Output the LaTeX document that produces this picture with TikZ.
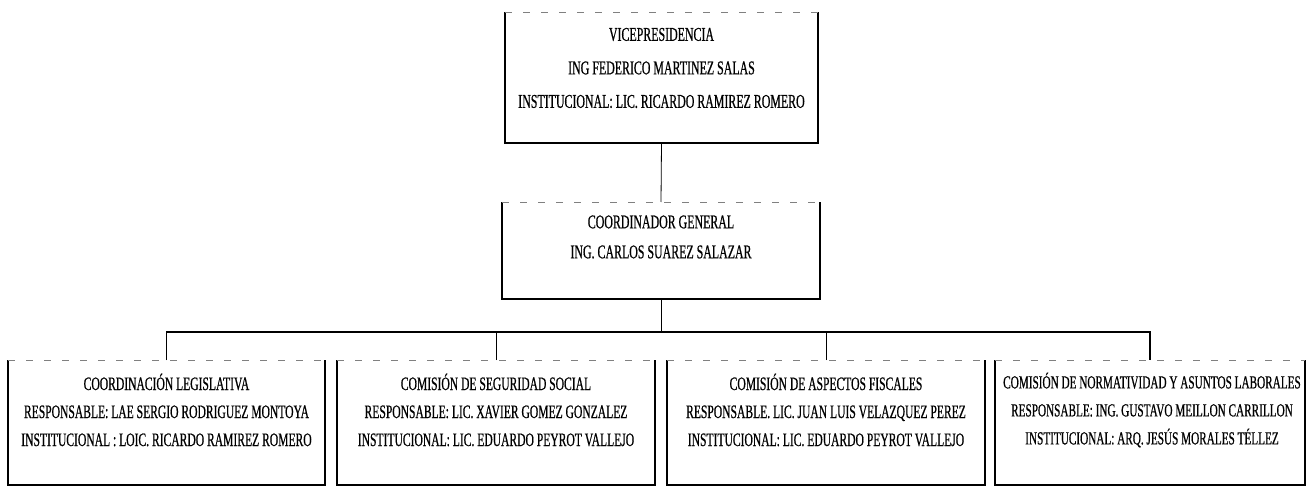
\documentclass[tikz,border=0pt]{standalone}
\usepackage{fontspec}
\newfontfamily\orgfont[FakeStretch=0.61,FakeBold=0.6]{Liberation Serif}
\usetikzlibrary{calc}
\begin{document}
\begin{tikzpicture}[x=1pt,y=-1pt,
  frame/.style={rectangle,draw=none,outer sep=0pt,inner sep=0pt},
  txt/.style={align=center,inner sep=0pt,font=\orgfont\fontsize{19.5}{33.5}\selectfont},
  txtb/.style={txt,font=\orgfont\fontsize{19.5}{30}\selectfont},
  txtc/.style={txt,font=\orgfont\fontsize{19}{28}\selectfont},
  txtd/.style={txt,font=\orgfont\fontsize{18.4}{28}\selectfont},
  conn/.style={draw=black,line width=0.8pt},
  busline/.style={draw=black,line width=1.6pt}]
\useasboundingbox (0,0) rectangle (1312,489);

% boxes of the chart
\node (vp) [frame,minimum width=313pt,minimum height=131pt] at (661.5,77.5) {};
\node (cg) [frame,minimum width=318pt,minimum height=97pt] at (661,250.5) {};
\node (c1) [frame,minimum width=317pt,minimum height=125pt] at (166.5,422.5) {};
\node (c2) [frame,minimum width=318pt,minimum height=125pt] at (496,422.5) {};
\node (c3) [frame,minimum width=318pt,minimum height=125pt] at (826,422.5) {};
\node (c4) [frame,minimum width=310pt,minimum height=125pt] at (1150,422.5) {};

% outlines: heavy sides and bottom, faint broken top edge
\foreach \b in {vp,cg,c1,c2,c3,c4}{
  \draw[line width=1.8pt] (\b.north west) -- (\b.south west) -- (\b.south east) -- (\b.north east);
  \draw[line width=0.7pt,gray,dash pattern=on 7pt off 11pt] (\b.north west) -- (\b.north east);
}

% texts
\node (vpt) [txt] at (661.5,68) {VICEPRESIDENCIA\\ING FEDERICO MARTINEZ SALAS\\INSTITUCIONAL: LIC. RICARDO RAMIREZ ROMERO};
\node (cgt) [txtb] at (661,237) {COORDINADOR GENERAL\\ING. CARLOS SUAREZ SALAZAR};
\node (c1t) [txtc] at (166.5,410) {COORDINACIÓN LEGISLATIVA\\RESPONSABLE: LAE SERGIO RODRIGUEZ MONTOYA\\INSTITUCIONAL : LOIC. RICARDO RAMIREZ ROMERO};
\node (c2t) [txtc] at (496,410) {COMISIÓN DE SEGURIDAD SOCIAL\\RESPONSABLE: LIC. XAVIER GOMEZ GONZALEZ\\INSTITUCIONAL: LIC. EDUARDO PEYROT VALLEJO};
\node (c3t) [txtc] at (826,410) {COMISIÓN DE ASPECTOS FISCALES\\RESPONSABLE. LIC. JUAN LUIS VELAZQUEZ PEREZ\\INSTITUCIONAL: LIC. EDUARDO PEYROT VALLEJO};
\node (c4t) [txtd] at (1152,410) {COMISIÓN DE NORMATIVIDAD Y ASUNTOS LABORALES\\RESPONSABLE: ING. GUSTAVO MEILLON CARRILLON\\INSTITUCIONAL: ARQ. JESÚS MORALES TÉLLEZ};

% connectors
\draw[conn] (vp.south) -- (cg.north);
\coordinate (bus) at ($(cg.south)+(0,33)$);
\draw[conn] (cg.south) -- (bus);
\draw[busline] (c1.north) |- (bus);
\draw[busline] (bus) -| (c4.north);
\draw[conn] (c2.north) -- (c2.north |- bus);
\draw[conn] (c3.north) -- (c3.north |- bus);
\draw[conn] (c1.north) -- (c1.north |- bus);
\draw[conn] (c4.north) -- (c4.north |- bus);
\end{tikzpicture}
\end{document}
